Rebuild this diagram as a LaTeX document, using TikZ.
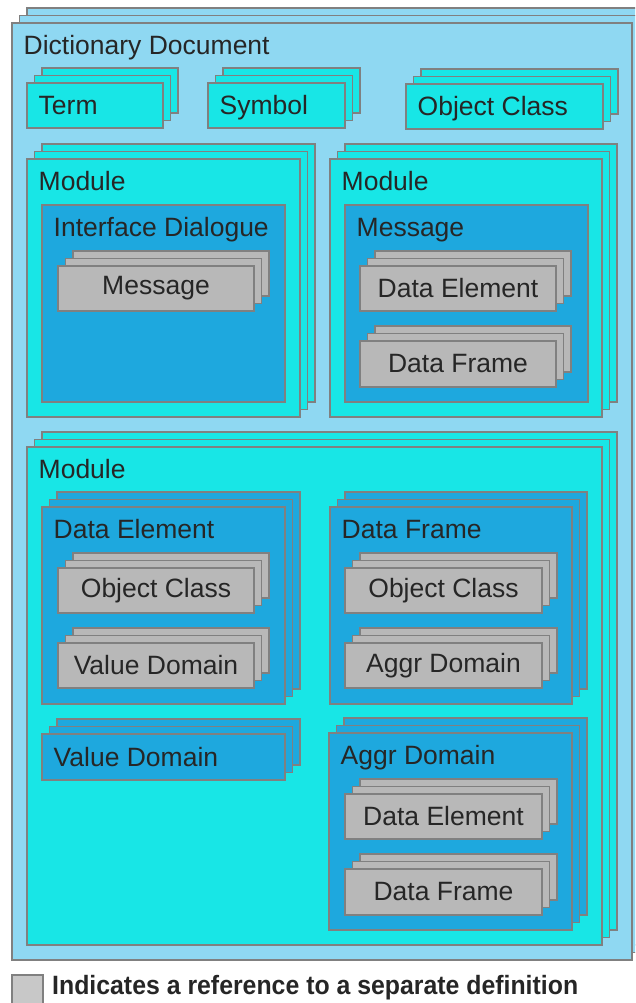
\documentclass[tikz,border=0pt]{standalone}
\usepackage{fontspec}
\usepackage{graphicx}
\setmainfont{Liberation Sans}
\usetikzlibrary{shadows}

\definecolor{docfill}{RGB}{143,216,242}
\definecolor{modfill}{RGB}{24,230,230}
\definecolor{itemfill}{RGB}{30,168,222}
\definecolor{reffill}{RGB}{184,184,184}
\definecolor{keyfill}{RGB}{200,200,200}
\definecolor{edge}{RGB}{128,128,128}
\definecolor{ink}{RGB}{38,38,38}

\newcommand{\boxfont}{\fontsize{26.5}{32}\selectfont}
% bold face squeezed to the width of the regular one
\newcommand{\heavytext}[1]{\resizebox{526pt}{\height}{\bfseries #1}}

\tikzset{stacked/.style={
    general shadow={shadow xshift=15pt, shadow yshift=15pt, fill=#1, draw=edge},
    general shadow={shadow xshift=7.5pt, shadow yshift=7.5pt, fill=#1, draw=edge},
    fill=#1}}

\tikzstyle{box} = [rectangle, draw=edge, line width=1.3pt, inner sep=0pt, outer sep=0pt, anchor=north west, text=ink, font=\boxfont]
\tikzstyle{docbox} = [box, stacked=docfill]
\tikzstyle{modbox} = [box, stacked=modfill]
\tikzstyle{itembox} = [box, fill=itemfill]
\tikzstyle{itemstack} = [box, stacked=itemfill]
\tikzstyle{refbox} = [box, stacked=reffill, minimum width=196pt, minimum height=45pt]
\tikzstyle{boxtitle} = [anchor=base west, xshift=11.5pt, yshift=-31.5pt, inner sep=0pt, text=ink, font=\boxfont]
\tikzstyle{boxcaption} = [anchor=base west, xshift=11.5pt, yshift=-9.5pt, inner sep=0pt, text=ink, font=\boxfont]

\begin{document}
\begin{tikzpicture}[x=1pt, y=-1pt]
    \clip (0,0) rectangle (635,1003);

    \node (doc) [docbox, minimum width=620pt, minimum height=937pt, label={[boxtitle]north west:Dictionary Document}] at (12,23) {};

    \node (term) [modbox, minimum width=136pt, minimum height=45pt, label={[boxcaption]west:Term}] at (27,83) {};
    \node (symbol) [modbox, minimum width=137pt, minimum height=45pt, label={[boxcaption]west:Symbol}] at (208,83) {};
    \node (objclass) [modbox, minimum width=197pt, minimum height=45pt, label={[boxcaption]west:Object Class}] at (406,84) {};

    % modules in the upper row
    \node (modleft) [modbox, minimum width=273pt, minimum height=258pt, label={[boxtitle]north west:Module}] at (27,159) {};
    \node (dialogue) [itembox, minimum width=243pt, minimum height=197pt, label={[boxtitle]north west:Interface Dialogue}] at (42,205) {};
    \node (dialoguemsg) [refbox] at (58,266) {Message};

    \node (modright) [modbox, minimum width=272pt, minimum height=258pt, label={[boxtitle]north west:Module}] at (330,159) {};
    \node (message) [itembox, minimum width=243pt, minimum height=197pt, label={[boxtitle]north west:Message}] at (345,205) {};
    \node (messageelem) [refbox] at (360,266) {Data Element};
    \node (messageframe) [refbox, minimum height=46pt] at (360,341) {Data Frame};

    % module in the lower row
    \node (modlower) [modbox, minimum width=575pt, minimum height=498pt, label={[boxtitle]north west:Module}] at (27,447) {};

    \node (dataelem) [itemstack, minimum width=243pt, minimum height=197pt, label={[boxtitle]north west:Data Element}] at (42,507) {};
    \node (elemclass) [refbox] at (58,568) {Object Class};
    \node (elemdomain) [refbox] at (58,643) {Value Domain};

    \node (valuedom) [itemstack, minimum width=243pt, minimum height=46pt, label={[boxcaption]west:Value Domain}] at (42,734) {};

    \node (dataframe) [itemstack, minimum width=242pt, minimum height=197pt, label={[boxtitle]north west:Data Frame}] at (330,507) {};
    \node (frameclass) [refbox, minimum width=197pt] at (345,568) {Object Class};
    \node (framedomain) [refbox, minimum width=197pt] at (345,643) {Aggr Domain};

    \node (aggrdom) [itemstack, minimum width=243pt, minimum height=197pt, label={[boxtitle]north west:Aggr Domain}] at (329,733) {};
    \node (aggrelem) [refbox, minimum width=197pt] at (345,794) {Data Element};
    \node (aggrframe) [refbox, minimum width=197pt, minimum height=46pt] at (345,869) {Data Frame};

    % legend
    \node (key) [box, fill=keyfill, minimum width=31pt, minimum height=34pt] at (12,975) {};
    \node (keytext) [anchor=base west, inner sep=0pt, text=ink, font=\boxfont] at (52,994) {\heavytext{Indicates a reference to a separate definition}};
\end{tikzpicture}
\end{document}
